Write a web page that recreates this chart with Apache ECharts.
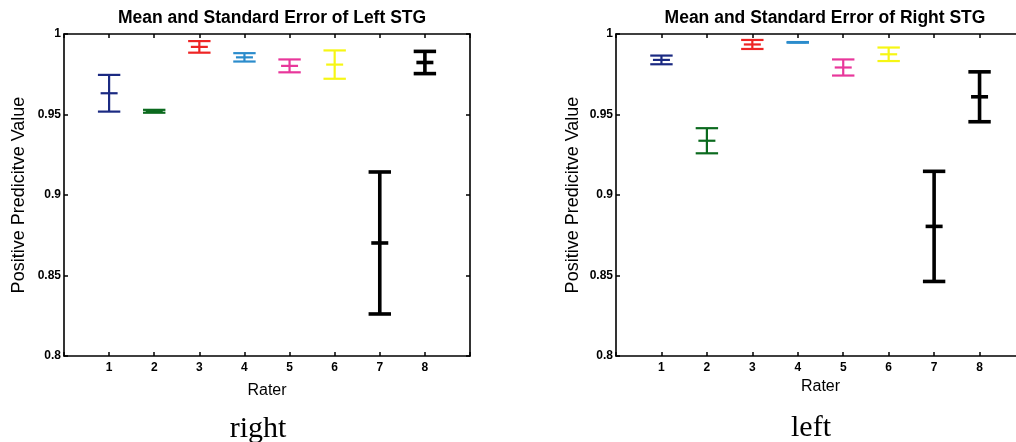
<!DOCTYPE html>
<html>
<head>
<meta charset="utf-8">
<title>Mean and Standard Error of STG</title>
<script src="https://cdn.jsdelivr.net/npm/echarts@6/dist/echarts.min.js"></script>
<style>
  html, body { margin: 0; padding: 0; background: #fff; }
  #chart { width: 1016px; height: 442px; }
</style>
</head>
<body>
<div id="chart"></div>
<script>
// Raters on the x axis
const raters = [1, 2, 3, 4, 5, 6, 7, 8];
const yTicks = [0.8, 0.85, 0.9, 0.95, 1];

// Left STG: mean positive predictive value and standard error per rater
const leftMean = [0.9632, 0.9520, 0.9920, 0.9855, 0.9802, 0.9810, 0.8702, 0.9823];
const leftErr  = [0.0114, 0.0009, 0.0036, 0.0026, 0.0040, 0.0088, 0.0441, 0.0069];

// Right STG: mean positive predictive value and standard error per rater
const rightMean = [0.9839, 0.9337, 0.9935, 0.9948, 0.9792, 0.9874, 0.8805, 0.9610];
const rightErr  = [0.0027, 0.0078, 0.0028, 0.0002, 0.0050, 0.0042, 0.0342, 0.0155];

// One colour per rater
const raterColors = ['#1b2a82', '#0b6a1e', '#ee2424', '#2b8ccc', '#e8379b', '#f6f614', '#000000', '#000000'];

const chart = echarts.init(document.getElementById('chart'));
const font = 'Liberation Sans, Arial, Helvetica, sans-serif';
const serif = '"Liberation Serif", "DejaVu Serif", serif';

function errorBarData(means, errs) {
  return raters.map((r, i) => [r, means[i], errs[i], i]);
}

function renderErrorBar(params, api) {
  const x = api.value(0), m = api.value(1), e = api.value(2), idx = api.value(3);
  const top = api.coord([x, m + e]);
  const mid = api.coord([x, m]);
  const bot = api.coord([x, m - e]);
  const color = raterColors[idx];
  const lw = color === '#000000' ? 3.6 : 2.2;
  const cap = 11.2, tick = 8.5;
  const style = { stroke: color, lineWidth: lw, fill: null };
  return {
    type: 'group',
    children: [
      { type: 'line', shape: { x1: top[0], y1: top[1], x2: bot[0], y2: bot[1] }, style },
      { type: 'line', shape: { x1: top[0] - cap, y1: top[1], x2: top[0] + cap, y2: top[1] }, style },
      { type: 'line', shape: { x1: bot[0] - cap, y1: bot[1], x2: bot[0] + cap, y2: bot[1] }, style },
      { type: 'line', shape: { x1: mid[0] - tick, y1: mid[1], x2: mid[0] + tick, y2: mid[1] }, style }
    ]
  };
}

const boxLine = { show: true, onZero: false, lineStyle: { color: '#000', width: 1.6 } };
const inTick = { show: true, inside: true, length: 4, lineStyle: { color: '#000', width: 1.5 } };
const tickFont = { color: '#000', fontFamily: font, fontSize: 12, fontWeight: 'bold' };
const nameFont = { color: '#000', fontFamily: font, fontWeight: 'normal' };

function axesFor(gridIndex, xNameGap, yNameGap) {
  const xAxes = [
    {
      gridIndex, type: 'value', min: 0, max: 9, interval: 1, position: 'bottom',
      name: 'Rater', nameLocation: 'middle', nameGap: xNameGap,
      nameTextStyle: Object.assign({ fontSize: 16 }, nameFont),
      axisLine: boxLine, axisTick: inTick, splitLine: { show: false },
      axisLabel: Object.assign({}, tickFont, {
        margin: 6,
        formatter: v => raters.includes(v) ? String(v) : ''
      })
    },
    {
      gridIndex, type: 'value', min: 0, max: 9, interval: 1, position: 'top',
      axisLine: boxLine, axisTick: inTick, splitLine: { show: false },
      axisLabel: { show: false }
    }
  ];
  const yAxes = [
    {
      gridIndex, type: 'value', min: yTicks[0], max: yTicks[yTicks.length - 1], interval: 0.05,
      position: 'left',
      name: 'Positive Predicitve Value', nameLocation: 'middle', nameGap: yNameGap,
      nameTextStyle: Object.assign({ fontSize: 18 }, nameFont),
      axisLine: boxLine, axisTick: inTick, splitLine: { show: false },
      axisLabel: Object.assign({}, tickFont, { margin: 3 })
    },
    {
      gridIndex, type: 'value', min: yTicks[0], max: yTicks[yTicks.length - 1], interval: 0.05,
      position: 'right',
      axisLine: boxLine, axisTick: inTick, splitLine: { show: false },
      axisLabel: { show: false }
    }
  ];
  return { xAxes, yAxes };
}

const a0 = axesFor(0, 27, 36);
const a1 = axesFor(1, 20, 34);

const titleStyle = { color: '#000', fontFamily: font, fontSize: 17.5, fontWeight: 'bold' };

const option = {
  backgroundColor: '#fff',
  animation: false,
  title: [
    { text: 'Mean and Standard Error of Left STG', left: 267, top: 4, textAlign: 'center', textStyle: titleStyle },
    { text: 'Mean and Standard Error of Right STG', left: 820, top: 4, textAlign: 'center', textStyle: titleStyle }
  ],
  grid: [
    { left: 64, top: 34, width: 406, height: 322, outerBoundsMode: 'none' },
    { left: 616, top: 34, width: 409, height: 322, outerBoundsMode: 'none' }
  ],
  xAxis: a0.xAxes.concat(a1.xAxes),
  yAxis: a0.yAxes.concat(a1.yAxes),
  series: [
    {
      type: 'custom', xAxisIndex: 0, yAxisIndex: 0,
      renderItem: renderErrorBar, data: errorBarData(leftMean, leftErr), clip: false
    },
    {
      type: 'custom', xAxisIndex: 2, yAxisIndex: 2,
      renderItem: renderErrorBar, data: errorBarData(rightMean, rightErr), clip: false
    }
  ],
  graphic: [
    {
      type: 'text', x: 258, y: 429,
      style: { text: 'right', fill: '#000', font: '30px ' + serif, align: 'center', verticalAlign: 'middle' }
    },
    {
      type: 'text', x: 811, y: 428,
      style: { text: 'left', fill: '#000', font: '30px ' + serif, align: 'center', verticalAlign: 'middle' }
    }
  ]
};

chart.setOption(option);
</script>
</body>
</html>
